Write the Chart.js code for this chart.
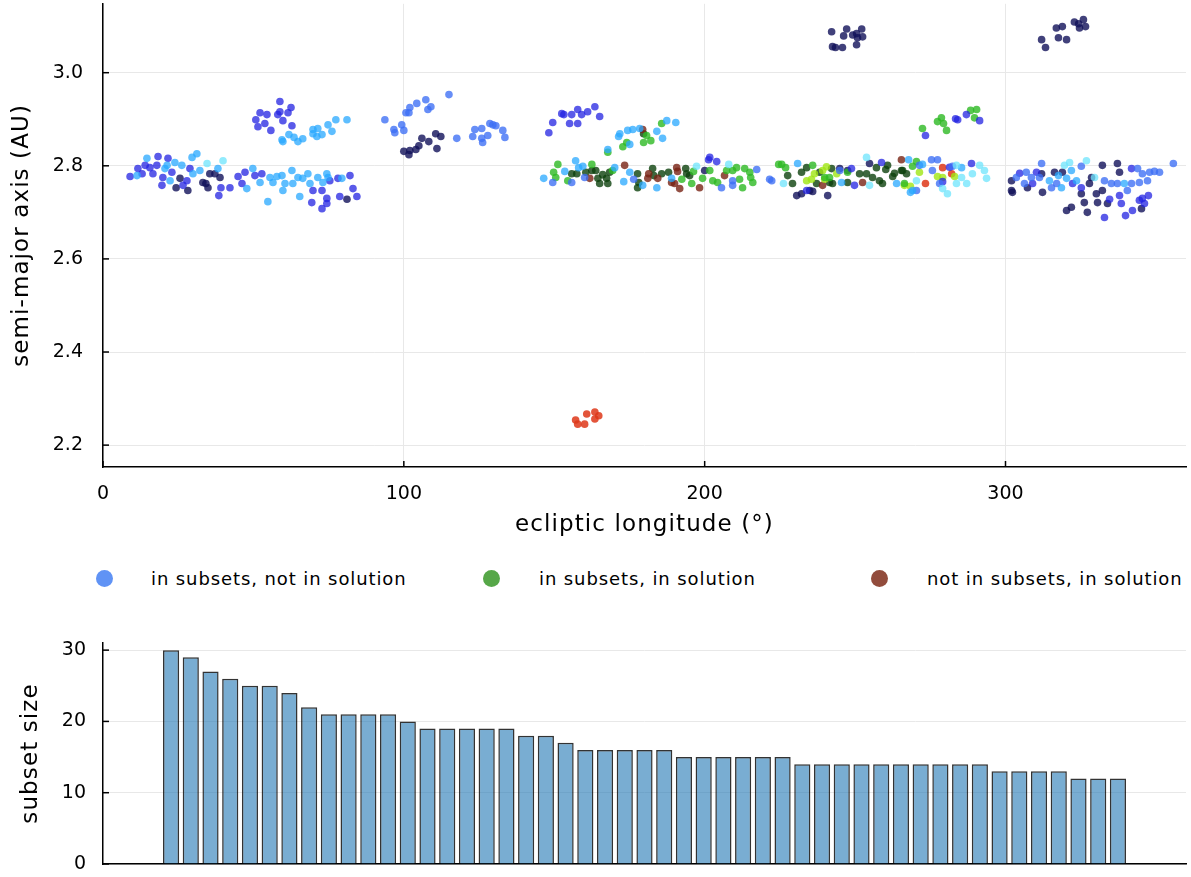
<!DOCTYPE html>
<html>
<head>
<meta charset="utf-8">
<script src="https://cdn.jsdelivr.net/npm/chart.js@4.4.0/dist/chart.umd.min.js"></script>
<style>
  body { margin: 0; background: #fff; width: 1191px; height: 877px; overflow: hidden; position: relative; font-family: 'DejaVu Sans', sans-serif; }
  #scatterBox { position: absolute; left: 0; top: 0; }
  #barBox { position: absolute; left: 0; top: 600px; }
  .leg { position: absolute; top: 566px; height: 24px; display: flex; align-items: center; font-size: 18px; letter-spacing: 0.9px; color: #000; }
  .leg span.dot { width: 17px; height: 17px; border-radius: 50%; display: inline-block; }
</style>
</head>
<body>
<canvas id="scatterBox" width="1191" height="545"></canvas>
<div class="leg" style="left:96px"><span class="dot" style="background:#6093f5"></span><span style="margin-left:38px">in subsets, not in solution</span></div>
<div class="leg" style="left:483px"><span class="dot" style="background:#56a748"></span><span style="margin-left:39px">in subsets, in solution</span></div>
<div class="leg" style="left:871px"><span class="dot" style="background:#924c3c"></span><span style="margin-left:39px">not in subsets, in solution</span></div>
<canvas id="barBox" width="1191" height="277"></canvas>
<script>
// ecliptic longitude (deg), semi-major axis (AU) — one list per marker shade
const navyPts = [
  [24.3,2.753],[25.6,2.773],[28.2,2.747],[33.2,2.764],[34.2,2.762],[34.9,2.753],[35.5,2.783],[37.2,2.783],[38.9,2.775],[81.1,2.728],
  [106.0,2.859],[105.0,2.843],[104.0,2.835],[102.0,2.833],[100.0,2.831],[101.7,2.824],[108.3,2.852],[110.6,2.869],[112.3,2.863],[111.0,2.837],
  [200.0,2.790],
  [230.6,2.736],[232.2,2.740],[234.9,2.747],[240.9,2.736],[244.9,2.794],[254.8,2.805],[247.5,2.790],[235.9,2.745],
  [302.0,2.768],[302.0,2.747],[302.3,2.743],[307.3,2.753],[312.0,2.783],[312.3,2.743],[316.3,2.786],[318.9,2.786],[325.2,2.740],[326.2,2.721],
  [327.2,2.700],[327.9,2.762],[328.6,2.775],[330.2,2.740],[330.6,2.721],[320.3,2.704],[321.9,2.711],[332.2,2.801],[332.2,2.747],[333.9,2.719],
  [337.2,2.805],[337.9,2.786],[345.2,2.708],
  [242.2,3.088],[247.2,3.094],[246.2,3.079],[249.2,3.081],[250.5,3.084],[252.2,3.094],[252.5,3.077],[250.8,3.075],[250.5,3.060],[245.8,3.054],[242.5,3.056],[243.5,3.054],
  [312.0,3.071],[313.3,3.054],[316.9,3.096],[318.9,3.099],[317.6,3.075],[320.3,3.071],[322.9,3.109],[324.3,3.105],[325.9,3.114],[326.6,3.099],[324.6,3.096]
];
const royalPts = [
  [9.0,2.777],[11.6,2.794],[13.0,2.783],[14.0,2.801],[15.6,2.796],[16.6,2.783],[18.3,2.820],[17.9,2.801],[19.6,2.758],[19.9,2.775],
  [21.6,2.816],[22.9,2.786],[26.6,2.758],[27.9,2.768],[28.9,2.794],[39.2,2.753],[38.5,2.736],[42.2,2.753],[44.9,2.777],[46.2,2.762],
  [47.2,2.786],[50.5,2.779],[52.8,2.783],[69.8,2.747],[69.4,2.721],[72.8,2.747],[74.4,2.730],[74.4,2.719],[72.8,2.708],[75.4,2.768],
  [78.1,2.773],[78.7,2.734],[82.1,2.779],[83.1,2.751],[84.4,2.734],
  [58.8,2.938],[52.2,2.914],[54.5,2.910],[50.8,2.899],[58.1,2.910],[58.8,2.916],[61.5,2.914],[62.5,2.925],[59.8,2.897],[53.8,2.891],
  [51.5,2.884],[62.8,2.886],[55.8,2.876],
  [148.2,2.871],[149.5,2.893],[152.5,2.912],[153.2,2.910],[155.8,2.910],[155.1,2.891],[157.8,2.891],[157.8,2.921],[159.1,2.910],[161.1,2.916],
  [163.5,2.927],[165.1,2.906],
  [201.7,2.818],[201.3,2.813],[204.0,2.809],
  [248.8,2.794],[249.8,2.758],[258.8,2.807],[233.9,2.747],[279.1,2.766],[281.4,2.797],[288.7,2.805],
  [273.4,2.865],[283.4,2.901],[284.1,2.899],[287.0,2.910],[291.4,2.897],
  [304.7,2.784],[309.0,2.762],[310.3,2.786],[322.3,2.762],[325.2,2.753],[332.9,2.689],[334.6,2.728],[337.9,2.736],[338.5,2.719],[339.9,2.693],
  [341.9,2.794],[342.2,2.704],[344.5,2.726],[345.5,2.730],[346.2,2.719],[347.5,2.736]
];
const cornPts = [
  [93.7,2.899],[96.7,2.878],[97.0,2.871],[99.3,2.888],[100.0,2.876],[100.7,2.914],[101.7,2.914],[102.0,2.925],[104.3,2.934],[107.3,2.942],
  [109.0,2.927],[108.0,2.921],[115.0,2.953],[117.6,2.859],[122.9,2.863],[123.6,2.878],[125.9,2.880],[126.2,2.850],[127.9,2.865],[128.6,2.891],
  [129.6,2.888],[130.6,2.886],[132.9,2.876],[133.6,2.861],[125.9,2.859],
  [149.5,2.764],[155.8,2.764],[160.1,2.775],[176.4,2.771],[205.6,2.753],[209.3,2.768],[209.3,2.758],[217.3,2.792],[221.6,2.771],
  [222.3,2.768],[244.9,2.790],[275.4,2.813],[275.7,2.790],[277.4,2.813],[278.1,2.762],[282.4,2.799],[271.4,2.801],[270.4,2.747],
  [303.6,2.775],[306.3,2.762],[306.9,2.786],[308.6,2.775],[311.3,2.775],[312.0,2.805],[315.3,2.753],[317.0,2.762],[325.2,2.799],[332.9,2.768],
  [335.2,2.762],[337.2,2.762],[340.5,2.747],[341.9,2.762],[343.9,2.794],[344.5,2.764],[345.5,2.783],[347.2,2.768],[347.9,2.786],[349.5,2.788],
  [351.2,2.786],[355.8,2.805]
];
const skyPts = [
  [11.3,2.779],[14.6,2.816],[20.6,2.794],[21.3,2.801],[22.3,2.768],[23.9,2.807],[26.2,2.801],[29.6,2.818],[31.2,2.826],[29.9,2.783],
  [32.2,2.790],[38.2,2.794],[47.8,2.751],[49.8,2.794],[52.2,2.764],[54.8,2.723],[55.5,2.775],[56.5,2.764],[57.8,2.777],[59.5,2.779],
  [59.8,2.747],[60.5,2.762],[62.8,2.790],[63.1,2.762],[64.8,2.775],[65.4,2.734],[66.4,2.773],[68.1,2.783],[68.8,2.762],[71.4,2.775],
  [73.1,2.764],[74.4,2.783],[74.8,2.775],[79.4,2.773],
  [59.5,2.856],[59.8,2.852],[61.8,2.867],[63.5,2.861],[64.8,2.852],[66.4,2.858],[69.8,2.878],[71.4,2.880],[69.8,2.869],[71.1,2.863],
  [72.8,2.867],[74.8,2.888],[76.1,2.874],[77.4,2.899],[81.1,2.899],
  [167.8,2.835],[171.4,2.863],[171.8,2.869],[174.4,2.876],[176.1,2.878],[178.4,2.880],[175.1,2.846],[184.1,2.874],[186.0,2.859],[187.4,2.897],
  [190.4,2.893],
  [146.5,2.773],[153.5,2.788],[157.1,2.811],[158.1,2.796],[159.5,2.799],[170.1,2.796],[173.1,2.766],[175.1,2.786],[179.4,2.758],[184.1,2.753],
  [189.0,2.773],
  [230.9,2.805],[245.5,2.764],[263.8,2.762],[267.8,2.813],[269.1,2.747],[272.4,2.803],[285.4,2.796],[268.4,2.743],
  [314.6,2.768],[317.6,2.779],[318.6,2.753],[320.3,2.773],[321.9,2.790],[323.6,2.768],[339.5,2.762]
];
const cyanPts = [
  [34.6,2.805],[39.9,2.811],
  [208.0,2.803],[197.3,2.799],
  [226.2,2.762],[253.8,2.818],[254.8,2.758],[270.4,2.768],[280.7,2.740],[283.7,2.762],[285.4,2.775],[287.1,2.762],[289.0,2.783],[291.4,2.801],
  [293.0,2.790],[293.7,2.773],[279.1,2.751],[283.7,2.801],
  [319.6,2.801],[321.3,2.807],[326.9,2.811],[329.6,2.775]
];
const greenPts = [
  [167.8,2.829],[172.8,2.841],[174.1,2.850],[180.7,2.865],[179.7,2.850],[182.1,2.854],[185.7,2.891],
  [149.8,2.786],[151.2,2.803],[150.5,2.775],[154.5,2.768],[162.5,2.803],[169.4,2.790],[192.4,2.771],[195.7,2.762],[196.3,2.788],
  [199.3,2.773],[201.7,2.790],[202.7,2.768],[204.3,2.764],[207.3,2.790],[209.3,2.790],[210.6,2.796],[211.6,2.771],[212.6,2.753],[213.3,2.794],
  [215.0,2.786],[215.3,2.775],[216.0,2.764],[224.6,2.803],
  [225.6,2.803],[226.9,2.796],[235.9,2.801],[239.9,2.775],[247.5,2.786],[269.1,2.799],[270.4,2.809],[266.4,2.762],[241.5,2.775],
  [272.4,2.880],[277.4,2.895],[278.7,2.903],[279.4,2.891],[280.4,2.876],[288.4,2.919],[290.4,2.921],[289.7,2.903]
];
const darkGreenPts = [
  [179.7,2.869],[155.8,2.783],[157.5,2.783],[160.5,2.786],[162.5,2.790],[163.8,2.790],[164.5,2.773],[165.1,2.762],[166.1,2.781],[167.4,2.773],
  [167.8,2.762],[168.4,2.786],[177.7,2.783],[178.1,2.764],[177.7,2.753],[182.7,2.794],[183.1,2.779],[185.7,2.783],[188.0,2.786],[193.7,2.794],
  [194.0,2.783],[195.0,2.779],
  [227.6,2.779],[229.2,2.762],[232.2,2.786],[233.9,2.796],[237.2,2.762],[238.2,2.786],[241.5,2.764],[242.2,2.794],[247.5,2.764],[251.5,2.783],
  [253.8,2.783],[255.8,2.775],[257.1,2.796],[258.1,2.768],[259.1,2.762],[260.8,2.801],[262.5,2.777],[265.4,2.790],[267.1,2.783],[242.5,2.762],
  [260.2,2.792],[263.1,2.784],[265.8,2.790]
];
const limePts = [
  [233.9,2.768],[236.5,2.783],[239.2,2.790],[243.9,2.783],[271.4,2.786],[279.1,2.775],[283.1,2.777],[240.5,2.798],[235.5,2.771],[239.9,2.771],
  [266.4,2.758],[268.4,2.756],[277.4,2.777]
];
const redPts = [
  [157.1,2.254],[157.8,2.245],[160.1,2.245],[160.8,2.267],[163.5,2.271],[163.5,2.256],[164.8,2.263],
  [273.4,2.762],[279.1,2.796],[282.1,2.783]
];
const brownPts = [
  [179.4,2.878],[161.8,2.773],[173.4,2.801],[181.1,2.773],[181.4,2.783],[184.4,2.773],[189.0,2.764],[190.7,2.796],[191.0,2.788],[190.0,2.762],
  [191.7,2.751],[198.3,2.753],[206.6,2.779],
  [252.5,2.764],[265.4,2.813],[239.2,2.758]
];

const lonTicks = [0, 100, 200, 300];
const axisTicks = [2.2, 2.4, 2.6, 2.8, 3.0];

// sorted subset sizes, one bar each
const subsetSizes = [30, 29, 27, 26, 25, 25, 24, 22, 21, 21, 21, 21, 20, 19, 19, 19, 19, 19, 18, 18, 17,
  16, 16, 16, 16, 16, 15, 15, 15, 15, 15, 15, 14, 14, 14, 14, 14, 14, 14, 14, 14, 14, 13, 13, 13, 13, 12, 12, 12];
const sizeTicks = [0, 10, 20, 30];

Chart.defaults.font.family = "'DejaVu Sans', sans-serif";
Chart.defaults.color = '#000';

// Plots-style short tick marks pointing into the plot
const innerTicks = {
    id: 'innerTicks',
    afterDatasetsDraw(chart) {
        const { ctx, chartArea } = chart;
        ctx.save();
        ctx.strokeStyle = '#000';
        ctx.lineWidth = 1.5;
        const xs = chart.scales.x, ys = chart.scales.y;
        if (xs.options.ticks.display) {
            xs.ticks.forEach(t => {
                const px = xs.getPixelForValue(t.value);
                ctx.beginPath(); ctx.moveTo(px, chartArea.bottom); ctx.lineTo(px, chartArea.bottom - 6); ctx.stroke();
            });
        }
        ys.ticks.forEach(t => {
            const py = ys.getPixelForValue(t.value);
            ctx.beginPath(); ctx.moveTo(chartArea.left, py); ctx.lineTo(chartArea.left + 6, py); ctx.stroke();
        });
        ctx.restore();
    }
};

// axis titles are set a little wider than the tick labels
function spacedTitle(scale) {
    const base = Object.getPrototypeOf(scale).drawTitle;
    scale.drawTitle = function () {
        this.ctx.save();
        this.ctx.letterSpacing = '1.1px';
        base.call(this);
        this.ctx.restore();
    };
}

// fixed box sizes; drop the padding Chart.js adds for edge labels
const fixY = w => s => { s.width = w; s.paddingTop = 0; s.paddingBottom = 0; spacedTitle(s); };
const fixX = h => s => { s.height = h; s.paddingLeft = 0; s.paddingRight = 0; spacedTitle(s); };

const toXY = pts => pts.map(p => ({ x: p[0], y: p[1] }));
const shade = (data, color) => ({
    data: toXY(data),
    backgroundColor: color,
    borderWidth: 0,
    pointRadius: 3.8,
    pointHoverRadius: 3.8
});

const gridColor = '#e8e8e8';

new Chart(document.getElementById('scatterBox'), {
    type: 'scatter',
    data: {
        datasets: [
            shade(cyanPts, 'rgba(110,228,252,0.75)'),
            shade(skyPts, 'rgba(40,168,255,0.75)'),
            shade(cornPts, 'rgba(60,110,245,0.78)'),
            shade(royalPts, 'rgba(35,35,225,0.75)'),
            shade(greenPts, 'rgba(45,185,35,0.8)'),
            shade(limePts, 'rgba(160,230,20,0.8)'),
            shade(redPts, 'rgba(222,55,25,0.85)'),
            shade(brownPts, 'rgba(120,35,20,0.8)'),
            shade(darkGreenPts, 'rgba(12,65,12,0.8)'),
            shade(navyPts, 'rgba(18,18,90,0.8)')
        ]
    },
    options: {
        responsive: false,
        animation: false,
        events: [],
        layout: { padding: { top: 3, right: 5, left: 0, bottom: 0 } },
        plugins: { legend: { display: false }, tooltip: { enabled: false } },
        scales: {
            x: {
                type: 'linear', min: 0, max: 360,
                afterBuildTicks: s => { s.ticks = lonTicks.map(v => ({ value: v })); },
                afterFit: fixX(78),
                ticks: { font: { size: 19 }, padding: 16 },
                grid: { color: gridColor, drawTicks: false },
                border: { color: '#000', width: 1.5 },
                title: { display: true, text: 'ecliptic longitude (°)', font: { size: 23 }, padding: { top: 0, bottom: 6 } }
            },
            y: {
                type: 'linear', min: 2.153, max: 3.148,
                afterBuildTicks: s => { s.ticks = axisTicks.map(v => ({ value: v })); },
                afterFit: fixY(103),
                ticks: { font: { size: 19 }, padding: 20, callback: v => v.toFixed(1) },
                grid: { color: gridColor, drawTicks: false },
                border: { color: '#000', width: 1.5 },
                title: { display: true, text: 'semi-major axis (AU)', font: { size: 23 }, padding: { top: 8, bottom: 0 } }
            }
        }
    },
    plugins: [innerTicks]
});

new Chart(document.getElementById('barBox'), {
    type: 'bar',
    data: {
        datasets: [{
            data: subsetSizes.map((v, i) => ({ x: i + 1, y: v })),
            backgroundColor: 'rgba(31,119,180,0.6)',
            borderColor: 'rgba(0,0,0,0.8)',
            borderWidth: 1.5,
            barPercentage: 0.82,
            categoryPercentage: 1
        }]
    },
    options: {
        responsive: false,
        animation: false,
        events: [],
        layout: { padding: { top: 43, right: 5, left: 0, bottom: 0 } },
        plugins: { legend: { display: false }, tooltip: { enabled: false } },
        scales: {
            x: {
                type: 'linear', min: -2.45, max: 52.45, offset: false,
                afterFit: fixX(13),
                ticks: { display: false },
                grid: { display: false },
                border: { color: '#000', width: 1.5 }
            },
            y: {
                type: 'linear', min: 0, max: 31,
                afterBuildTicks: s => { s.ticks = sizeTicks.map(v => ({ value: v })); },
                afterFit: fixY(103),
                ticks: { font: { size: 19 }, padding: 17 },
                grid: { color: gridColor, drawTicks: false },
                border: { color: '#000', width: 1.5 },
                title: { display: true, text: 'subset size', font: { size: 23 }, padding: { top: 17, bottom: 0 } }
            }
        }
    },
    plugins: [innerTicks]
});
</script>
</body>
</html>
